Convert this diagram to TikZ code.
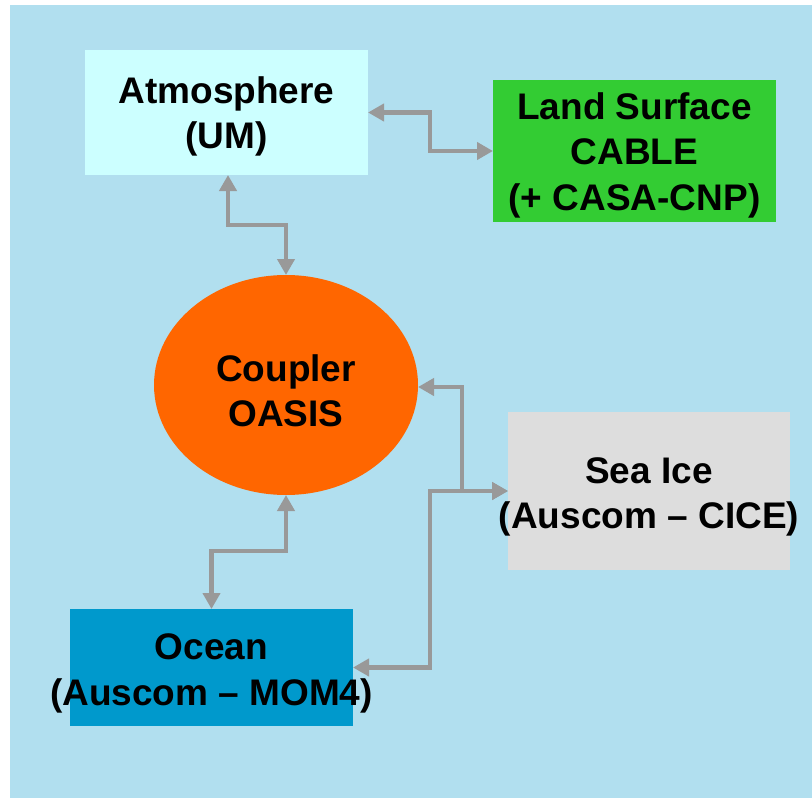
\documentclass[tikz,border=0pt]{standalone}
\usepackage{fontspec}
\setmainfont{Liberation Sans}
\usetikzlibrary{shapes.geometric,arrows.meta}
\definecolor{bgblue}{RGB}{177,223,239}
\definecolor{atmcol}{HTML}{CCFFFF}
\definecolor{landcol}{HTML}{33CC33}
\definecolor{coupcol}{HTML}{FF6600}
\definecolor{icecol}{HTML}{DDDDDD}
\definecolor{oceancol}{HTML}{0099CC}
\definecolor{conncol}{HTML}{999999}
\tikzset{
  boxnode/.style={draw=none,rectangle,inner sep=0pt,outer sep=0pt},
  lbl/.style={font=\fontsize{37}{45.5}\selectfont\bfseries,align=center,inner sep=0pt,text=black},
  conn/.style={draw=conncol,line width=4.2pt,{Triangle[length=16pt,width=17pt]}-{Triangle[length=16pt,width=17pt]}}
}
\begin{document}
\begin{tikzpicture}[x=1pt,y=-1pt]
\useasboundingbox (0,0) rectangle (812,798);
\fill[bgblue] (10,5) rectangle (812,798);
\node[boxnode,fill=atmcol,minimum width=283pt,minimum height=125pt] (atm) at (226.5,112.5) {};
\node[boxnode,fill=landcol,minimum width=283pt,minimum height=142pt] (land) at (634.5,151) {};
\node[ellipse,fill=coupcol,inner sep=0pt,outer sep=0pt,minimum width=264pt,minimum height=220pt] (coup) at (286,385) {};
\node[boxnode,fill=icecol,minimum width=282pt,minimum height=158pt] (sea) at (649,491) {};
\node[boxnode,fill=oceancol,minimum width=283pt,minimum height=117pt] (ocean) at (211.5,667.5) {};
\node[lbl] (atmtxt) at ([yshift=-4pt]atm.center) {Atmosphere\\(UM)};
\node[lbl] (landtxt) at ([yshift=-4pt]land.center) {Land Surface\\CABLE\\(+ CASA-CNP)};
\node[lbl] (couptxt) at ([yshift=-6pt]coup.center) {Coupler\\OASIS};
\node[lbl] (seatxt) at ([yshift=-6pt]sea.center) {Sea Ice\\(Auscom -- CICE)};
\node[lbl] (oceantxt) at ([yshift=-6pt]ocean.center) {Ocean\\(Auscom -- MOM4)};
\draw[conn] ([xshift=1.5pt]atm.south) -- ++(0,50) -| (coup.north);
\draw[conn] (atm.east) -- ++(62,0) |- (land.west);
\draw[conn] (coup.south) -- ++(0,56) -| (ocean.north);
\draw[conn] ([yshift=-2pt]coup.east) -- ++(44,0) |- (sea.west);
\draw[conn] (ocean.east) -- ++(77,0) |- (sea.west);
\end{tikzpicture}
\end{document}
